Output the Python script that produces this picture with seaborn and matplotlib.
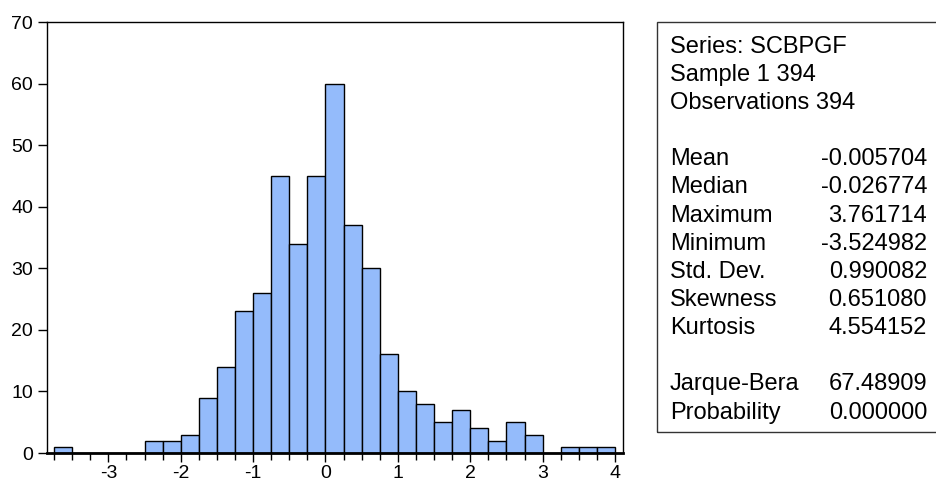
import numpy as np
import pandas as pd
import matplotlib
matplotlib.use("Agg")
import matplotlib.pyplot as plt
from matplotlib.patches import Rectangle
import seaborn as sns

# Histogram counts (bins of width 0.25)
bin_edges = np.arange(-3.75, 4.0001, 0.25)
counts = [1, 0, 0, 0, 0, 2, 2, 3, 9, 14, 23, 26, 45, 34, 45, 60,
          37, 30, 16, 10, 8, 5, 7, 4, 2, 5, 3, 0, 1, 1, 1]

stat_header = ["Series: SCBPGF", "Sample 1 394", "Observations 394"]
stat_names = ["Mean", "Median", "Maximum", "Minimum", "Std. Dev.",
              "Skewness", "Kurtosis"]
stat_values = ["-0.005704", "-0.026774", "3.761714", "-3.524982",
               "0.990082", "0.651080", "4.554152"]
test_names = ["Jarque-Bera", "Probability"]
test_values = ["67.48909", "0.000000"]

y_ticks = [0, 10, 20, 30, 40, 50, 60, 70]
x_ticks = [-3, -2, -1, 0, 1, 2, 3, 4]

sns.set_theme(style="ticks")
plt.rcParams["font.family"] = ["Liberation Sans", "DejaVu Sans"]
plt.rcParams["text.color"] = "black"
plt.rcParams["xtick.color"] = "black"
plt.rcParams["ytick.color"] = "black"

df = pd.DataFrame({"x": bin_edges[:-1] + 0.125, "n": counts})

fig = plt.figure(figsize=(9.36, 4.83), dpi=100)
ax = fig.add_axes([47 / 936, 30 / 483, 576 / 936, 431 / 483])

sns.histplot(data=df, x="x", weights="n", binwidth=0.25,
             binrange=(-3.75, 4.0), ax=ax,
             color="#94bbfb", alpha=1, edgecolor="black", linewidth=1.0)

ax.set_xlim(-3.847, 4.11)
ax.set_ylim(0, 70)
ax.set_xlabel("")
ax.set_ylabel("")
ax.set_yticks(y_ticks)
ax.set_yticklabels([str(v) for v in y_ticks], fontsize=14)
ax.set_xticks(x_ticks)
ax.set_xticklabels([str(v) for v in x_ticks], fontsize=14)
ax.set_xticks(bin_edges, minor=True)
ax.tick_params(axis="x", which="major", direction="out", length=6.5,
               width=1, pad=2)
ax.tick_params(axis="x", which="minor", direction="out", length=5,
               width=1)
ax.tick_params(axis="y", direction="out", length=6.5, width=1, pad=3.5)
for side in ["left", "top", "right"]:
    ax.spines[side].set_color("black")
    ax.spines[side].set_linewidth(1.0)
ax.spines["bottom"].set_color("black")
ax.spines["bottom"].set_linewidth(2.0)

# Statistics panel
fig.patches.append(Rectangle((657 / 936, 51 / 483), 0.31, 410 / 483,
                             transform=fig.transFigure, fill=False,
                             edgecolor="#333333", linewidth=1.0))
fs = 17
x_left = 670 / 936
x_right = 927 / 936
line_gap = 28.15


def base_y(i):
    return 1 - (52.7 + i * line_gap) / 483


for i, t in enumerate(stat_header):
    fig.text(x_left, base_y(i), t, fontsize=fs, va="baseline", ha="left")
for i, (n, v) in enumerate(zip(stat_names, stat_values)):
    fig.text(x_left, base_y(i + 4), n, fontsize=fs, va="baseline", ha="left")
    fig.text(x_right, base_y(i + 4), v, fontsize=fs, va="baseline", ha="right")
for i, (n, v) in enumerate(zip(test_names, test_values)):
    fig.text(x_left, base_y(i + 12), n, fontsize=fs, va="baseline", ha="left")
    fig.text(x_right, base_y(i + 12), v, fontsize=fs, va="baseline", ha="right")

fig.savefig("out.png", dpi=100)
